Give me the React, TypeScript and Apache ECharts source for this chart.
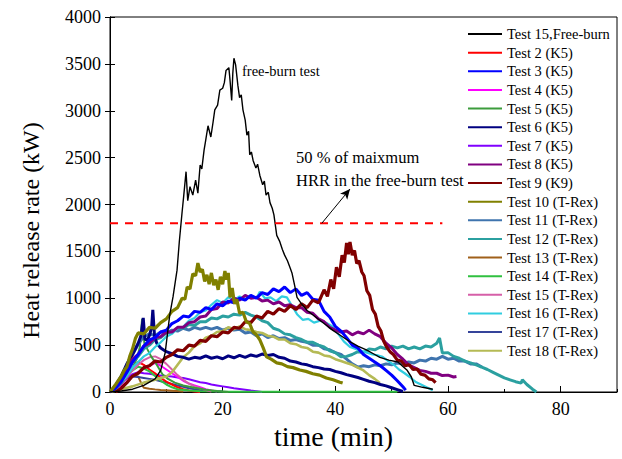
import React, { useEffect, useRef } from "react";
import * as echarts from "echarts";

const FONT = "'Liberation Serif', 'Times New Roman', serif";

const legendNames = [
  "Test 15,Free-burn", "Test 2 (K5)", "Test 3 (K5)", "Test 4 (K5)", "Test 5 (K5)",
  "Test 6 (K5)", "Test 7 (K5)", "Test 8 (K5)", "Test 9 (K9)", "Test 10 (T-Rex)",
  "Test 11 (T-Rex)", "Test 12 (T-Rex)", "Test 13 (T-Rex)", "Test 14 (T-Rex)",
  "Test 15 (T-Rex)", "Test 16 (T-Rex)", "Test 17 (T-Rex)", "Test 18 (T-Rex)",
];

const freeBurn = [[0,0],[2,10],[4,30],[6,70],[8,140],[9,230],[9.8,420],[10.6,820],[11.2,1020],[11.9,1300],[12.3,1600],[12.8,1920],[13.1,2100],[13.5,2350],[13.8,2040],[14.2,2190],[14.7,2100],[15.2,2260],[15.6,2120],[16,2420],[16.3,2380],[16.7,2580],[17,2690],[17.4,2840],[17.9,2720],[18.3,2880],[18.6,3010],[19.1,3060],[19.5,3220],[20,3240],[20.3,3300],[20.6,3430],[21.1,3460],[21.3,3330],[21.6,3110],[21.8,3400],[22,3560],[22.3,3490],[22.7,3270],[23,3140],[23.3,3170],[23.6,3010],[24,2900],[24.3,2740],[24.6,2780],[24.8,2530],[25.1,2560],[25.4,2470],[25.9,2390],[26.2,2430],[26.6,2310],[27.1,2210],[27.4,2250],[27.7,2100],[28.1,2130],[28.4,2020],[28.8,1960],[29.1,1890],[29.6,1670],[30.1,1610],[30.6,1520],[31,1460],[31.5,1400],[32,1320],[32.3,1270],[32.8,1130],[33.2,1010],[34,940],[35,870],[36.5,800],[38,730],[39.5,660],[41,600],[42.5,540],[44,490],[45.5,450],[47,400],[47.9,370],[49.5,340],[51.1,320],[52.7,235],[53.5,160],[54,70],[55.5,50],[57.3,30]];

const test2 = [[0,0],[1,40],[2,110],[3,190],[4,260],[5,320],[6,290],[7,240],[8,200],[9,150],[10,110],[11,80],[12,50],[13,30],[14,15],[15,5],[16,0]];

const test3 = [[0,0],[1,40],[2,110],[3,210],[4,320],[5,400],[6,490],[7,555],[8,580],[9,640],[10,660],[11,730],[12,760],[13,810],[14,800],[15,860],[16,850],[17,900],[18,880],[19,940],[20,920],[21,970],[22,950],[23,1000],[24,980],[25,1030],[26,1000],[27,1060],[28,1040],[29,1100],[30,1070],[31,1120],[32,1060],[33,1100],[34,1030],[35,1060],[36,990],[37,980],[38,860],[39,800],[40,700],[41,650],[42,580],[43,500],[44,470],[45,400],[46,360],[47,320],[48,280],[49,230],[50,180],[51,120],[52,55],[52.5,20]];

const test4 = [[0,0],[1,20],[2,60],[3,110],[4,170],[5,210],[6,250],[7,280],[8,310],[9,280],[10,240],[11,200],[12,160],[13,120],[14,90],[15,70],[16,50],[17,30],[18,15],[19,5]];

const test5 = [[0,0],[1,30],[2,90],[3,170],[4,260],[4.8,360],[5.3,480],[5.7,780],[6.1,520],[6.6,460],[7.3,380],[8.3,290],[9.3,190],[10.3,140],[11.5,100],[13,70],[15,45],[17,25],[19,10],[21,0]];

const test6 = [[0,0],[1,70],[2,170],[3,300],[4,400],[5,520],[5.5,600],[5.9,790],[6.2,560],[6.7,560],[7.1,620],[7.4,700],[7.6,875],[7.9,600],[8.3,520],[9,470],[10,430],[11,410],[12,380],[13,370],[14,350],[15,370],[16,360],[17,385],[18,360],[19,375],[20,355],[21,385],[22,365],[23,390],[24,370],[25,395],[26,380],[27,405],[28,390],[29,400],[30,370],[31,360],[32,330],[33,320],[34,300],[35,290],[36,270],[37,260],[38,245],[39,240],[40,220],[41,205],[42,185],[43,170],[44,155],[45,135],[46,115],[47,100],[48,80],[49,65],[50,45],[51,25],[52,5]];

const test7 = [[0,0],[1,30],[2,90],[3,150],[4,190],[5,210],[6,200],[7,195],[8,185],[9,175],[10,170],[11,165],[12,155],[13,150],[14,135],[15,120],[16,105],[17,95],[18,80],[19,70],[20,60],[21,50],[22,40],[23,32],[24,24],[25,15],[26,8],[27,0]];

const test8 = [[0,0],[1,50],[2,150],[3,240],[4,350],[5,400],[6,490],[7,520],[8,580],[9,590],[10,640],[11,640],[12,690],[13,690],[14,740],[15,750],[16,800],[17,810],[18,880],[19,890],[20,960],[21,950],[22,1000],[23,980],[24,1030],[25,1000],[26,1010],[27,970],[28,980],[29,940],[30,960],[31,920],[32,930],[33,900],[34,900],[35,850],[36,840],[37,780],[38,750],[39,690],[40,660],[41,640],[42,650],[43,610],[44,640],[45,620],[46,660],[47,620],[48,590],[49,520],[50,470],[51,400],[52,350],[53,290],[54,260],[55,230],[56,220],[57,200],[58,200],[59,175],[60,180],[61,160],[61.5,165]];

const test9 = [[1,0],[2,40],[3,100],[4,170],[5,200],[6,260],[7,280],[8,330],[9,320],[10,370],[11,400],[12,450],[13,440],[14,500],[15,490],[16,550],[17,540],[18,600],[19,590],[20,640],[21,630],[22,690],[23,680],[24,750],[25,740],[26,810],[27,790],[28,860],[29,830],[30,890],[31,860],[32,920],[33,880],[34,940],[35,900],[36,980],[37,950],[38,1090],[38.6,1020],[39.2,1200],[39.7,1100],[40.2,1330],[40.7,1230],[41.2,1460],[41.6,1380],[42,1590],[42.3,1470],[42.6,1600],[43,1460],[43.4,1510],[43.8,1370],[44.2,1400],[44.7,1280],[45.1,1240],[45.6,1080],[46.1,1030],[46.6,880],[47.1,830],[47.6,700],[48.1,650],[48.6,540],[49.1,480],[49.7,430],[50.3,400],[51,340],[51.7,330],[52.4,280],[53.1,290],[53.8,240],[54.5,245],[55.2,190],[55.9,180],[56.6,140],[57.3,130],[57.8,100]];

const test10 = [[0,0],[1,80],[2,170],[2.5,230],[3,270],[3.5,380],[4,460],[4.5,570],[5,630],[6,620],[7,690],[8,680],[9,740],[10,780],[11,860],[12,900],[12.8,1000],[13.3,990],[13.7,1120],[14.2,1100],[14.7,1260],[15.2,1240],[15.6,1375],[16,1280],[16.4,1310],[16.8,1180],[17.2,1250],[17.6,1150],[18,1270],[18.4,1140],[18.8,1200],[19.2,1090],[19.6,1230],[20,1150],[20.4,1290],[20.7,1200],[21,1270],[21.3,1010],[21.7,1110],[22.1,940],[22.5,990],[23,840],[23.6,850],[24.2,750],[24.8,730],[25.4,640],[26,610],[26.6,555],[27.2,470],[27.8,375],[28.6,350],[29.6,310],[30.5,300],[31.5,270],[32.5,260],[33.7,235],[34.8,220],[36,195],[37.2,180],[38.4,150],[39.6,130],[40.8,105],[41.3,95]];

const test11 = [[0,0],[1,60],[2,160],[3,290],[4,400],[5,510],[6,590],[7,620],[8,600],[9,640],[10,630],[11,660],[12,650],[13,680],[14,660],[15,690],[16,670],[17,690],[18,670],[19,690],[20,660],[21,680],[22,660],[23,670],[24,630],[25,640],[26,600],[27,620],[28,580],[29,600],[30,570],[31,580],[32,550],[33,560],[34,540],[35,530],[36,500],[37,500],[38,460],[39,450],[40,420],[41,400],[42,350],[43,300],[44,265],[45,280],[46,270],[47,290],[48,280],[49,300],[50,290],[51,310],[52,300],[53,320],[54,310],[55,340],[56,330],[57,360],[58,350],[59,380],[60,350],[61,360],[62,330],[63,330],[64,300],[65,300],[66,265]];

const test12 = [[0,0],[1,40],[2,130],[3,220],[4,320],[5,380],[6,460],[7,500],[8,560],[9,580],[10,630],[11,640],[12,680],[13,680],[14,720],[15,710],[16,750],[17,750],[18,790],[19,780],[20,810],[21,800],[22,830],[23,820],[24,850],[25,820],[26,800],[27,760],[28,740],[29,680],[30,660],[31,620],[32,610],[33,580],[34,560],[35,530],[36,530],[37,500],[38,480],[39,440],[40,420],[41,375],[42,380],[43,400],[44,430],[45,420],[46,460],[47,450],[48,480],[49,460],[50,490],[51,470],[52,490],[53,460],[54,480],[55,460],[56,490],[57,480],[58,520],[58.5,575],[59,415],[60,420],[61,380],[62,360],[63,330],[64,310],[65,290],[66,265],[67,240],[68,210],[69,180],[70,150],[71,130],[72,110],[73,95],[73.2,130],[74,80],[75,30],[75.7,0]];

const test13 = [[0,0],[1,40],[2,100],[3,150],[4,175],[5,165],[5.5,100],[6,45],[7,35],[8,28],[9,22],[10,18],[11,14],[12,10],[13,5]];

const test14 = [[0,0],[1,40],[2,110],[3,180],[4,230],[5,270],[6,250],[7,220],[8,170],[9,120],[10,80],[11,50],[12,30],[14,15],[16,8],[20,4],[30,3],[40,3],[51,3]];

const test15 = [[0,0],[1,30],[2,90],[3,160],[4,230],[5,290],[6,340],[7,370],[8,380],[9,350],[10,300],[11,240],[12,180],[13,130],[14,90],[15,60],[16,40],[17,20],[18,5]];

const test16 = [[0,0],[1,30],[2,100],[3,170],[4,260],[5,320],[6,380],[7,415],[8,480],[9,530],[10,590],[11,620],[12,680],[13,695],[14,760],[15,790],[16,850],[17,870],[18,930],[19,980],[20,950],[21,1010],[22,980],[23,1020],[24,990],[25,1030],[26,1000],[26.6,1070],[27.5,1000],[28.5,1010],[29.5,970],[30.5,1020],[31.4,1010],[32.3,920],[33.2,830],[34.2,770],[35.2,780],[36.2,740],[37.3,760],[38.5,735],[39.5,700],[40.5,620],[41.5,540],[42.6,480],[43.6,460],[44.6,440],[45.6,420],[46.6,400],[47.6,390],[48.4,375],[49.4,330],[50.4,290],[51.3,240],[52.3,200],[53.2,160],[54.2,110],[55.2,80],[56.2,50],[57.3,20]];

const test17 = [[0,0],[1,50],[2,110],[3,150],[4,165],[5,160],[6,150],[7,140],[8,130],[9,115],[10,100],[11,85],[12,70],[13,55],[14,40],[15,30],[16,20],[18,10],[20,5]];

const test18 = [[0,0],[2,30],[4,60],[6,100],[8,130],[9,150],[10,165],[11,210],[12,290],[13,370],[14,420],[15,490],[16,520],[17,580],[18,600],[19,640],[20,650],[21,690],[22,670],[23,700],[24,670],[25,660],[26,640],[27,630],[28,600],[29,590],[30,560],[31,560],[32,520],[33,510],[34,480],[35,470],[36,430],[37,420],[38,390],[39,380],[40,350],[41,330],[42,310],[43,290],[44,260],[45,230],[46,180],[47,140],[47.9,95]];

const halfLine = [[0,1800],[59,1800]];
const arrowFrom = [37.6, 1800];
const arrowTo = [42.6, 2165];

// draw order (later on top)
const seriesDefs: [string, number[][], string, number][] = [
  ["Test 13 (T-Rex)", test13, "#A0601A", 2],
  ["Test 17 (T-Rex)", test17, "#35449A", 2],
  ["Test 7 (K5)", test7, "#8000FF", 2],
  ["Test 2 (K5)", test2, "#FF0000", 2],
  ["Test 4 (K5)", test4, "#FF00FF", 2],
  ["Test 14 (T-Rex)", test14, "#30C040", 2],
  ["Test 15 (T-Rex)", test15, "#D65FA8", 2],
  ["Test 5 (K5)", test5, "#3C9C3C", 2],
  ["Test 11 (T-Rex)", test11, "#3F74AE", 3],
  ["Test 12 (T-Rex)", test12, "#2BA0A0", 3],
  ["Test 18 (T-Rex)", test18, "#B5BA55", 2.6],
  ["Test 6 (K5)", test6, "#000080", 3],
  ["Test 16 (T-Rex)", test16, "#30CDE0", 2.2],
  ["Test 8 (K5)", test8, "#800080", 3],
  ["Test 3 (K5)", test3, "#0000FF", 3],
  ["Test 9 (K9)", test9, "#800000", 3.2],
  ["Test 10 (T-Rex)", test10, "#808000", 3.2],
  ["Test 15,Free-burn", freeBurn, "#000000", 1.4],
];

export default function App() {
  const ref = useRef<HTMLDivElement>(null);
  useEffect(() => {
    document.body.style.margin = "0";
    const chart = echarts.init(ref.current!, null, { renderer: "svg" });
    const series: any[] = seriesDefs.map(([name, data, color, w]) => ({
      name,
      type: "line",
      data,
      symbol: "none",
      showSymbol: false,
      color,
      lineStyle: { color, width: w },
      xAxisIndex: 0,
      yAxisIndex: 0,
      z: 3,
    }));
    series.push({
      name: "half",
      type: "line",
      data: halfLine,
      symbol: "none",
      lineStyle: { color: "#FF0000", width: 2, type: [8, 7] },
      z: 4,
      markLine: {
        silent: true,
        symbol: ["none", "arrow"],
        symbolSize: [7, 10],
        label: { show: false },
        lineStyle: { color: "#000", width: 1, type: "solid" },
        data: [[{ coord: arrowFrom }, { coord: arrowTo }]],
      },
    });
    const axisLabelStyle = { color: "#000", fontFamily: FONT, fontSize: 18, fontWeight: "normal" };
    chart.setOption({
      animation: false,
      backgroundColor: "#fff",
      grid: { left: 110, right: 5, top: 17, bottom: 67, show: true, borderColor: "#000", borderWidth: 1, backgroundColor: "transparent" },
      legend: {
        data: legendNames,
        orient: "vertical",
        left: 468,
        top: 26,
        padding: 0,
        icon: "rect",
        itemWidth: 34,
        itemHeight: 2,
        itemGap: 2.63,
        textStyle: { color: "#000", fontFamily: FONT, fontSize: 14.5, lineHeight: 16 },
        selectedMode: false,
      },
      xAxis: [
        {
          type: "value",
          min: 0,
          max: 90,
          interval: 20,
          position: "bottom",
          axisLine: { show: true, onZero: false, lineStyle: { color: "#000", width: 1 } },
          axisTick: { show: true, inside: true, length: 6, lineStyle: { color: "#000" } },
          axisLabel: { ...axisLabelStyle, margin: 8, showMaxLabel: false },
          splitLine: { show: false },
          name: "time (min)",
          nameLocation: "middle",
          nameGap: 30,
          nameTextStyle: { color: "#000", fontFamily: FONT, fontSize: 28, fontWeight: "normal", padding: [0, 60, 0, 0] },
        },
        {
          type: "value",
          min: 0,
          max: 90,
          interval: 10,
          position: "bottom",
          axisLine: { show: false },
          axisTick: { show: true, inside: true, length: 3, lineStyle: { color: "#000" } },
          axisLabel: { show: false },
          splitLine: { show: false },
        },
      ],
      yAxis: [
        {
          type: "value",
          min: 0,
          max: 4000,
          interval: 500,
          axisLine: { show: true, onZero: false, lineStyle: { color: "#000", width: 1 } },
          axisTick: { show: true, inside: true, length: 5, lineStyle: { color: "#000" } },
          axisLabel: { ...axisLabelStyle, margin: 9, formatter: (v: number) => String(v) },
          splitLine: { show: false },
          name: "Heat release rate (kW)",
          nameLocation: "middle",
          nameGap: 67,
          nameTextStyle: { color: "#000", fontFamily: FONT, fontSize: 24, fontWeight: "normal", padding: [0, 52, 0, 0] },
        },
        {
          type: "value",
          min: 0,
          max: 4000,
          interval: 500,
          position: "right",
          axisLine: { show: true, lineStyle: { color: "#000", width: 1 } },
          axisTick: { show: true, inside: true, length: 5, lineStyle: { color: "#000" } },
          axisLabel: { show: false },
          splitLine: { show: false },
        },
      ],
      graphic: [
        { type: "text", left: 242, top: 63, style: { text: "free-burn test", font: `14.5px ${FONT}`, fill: "#000" } },
        { type: "text", left: 296, top: 149, style: { text: "50 % of maixmum", font: `16.5px ${FONT}`, fill: "#000" } },
        { type: "text", left: 296, top: 172, style: { text: "HRR in the free-burn test", font: `16.5px ${FONT}`, fill: "#000" } },
      ],
      series,
    });
    return () => chart.dispose();
  }, []);
  return <div ref={ref} style={{ width: 622, height: 459 }} />;
}
